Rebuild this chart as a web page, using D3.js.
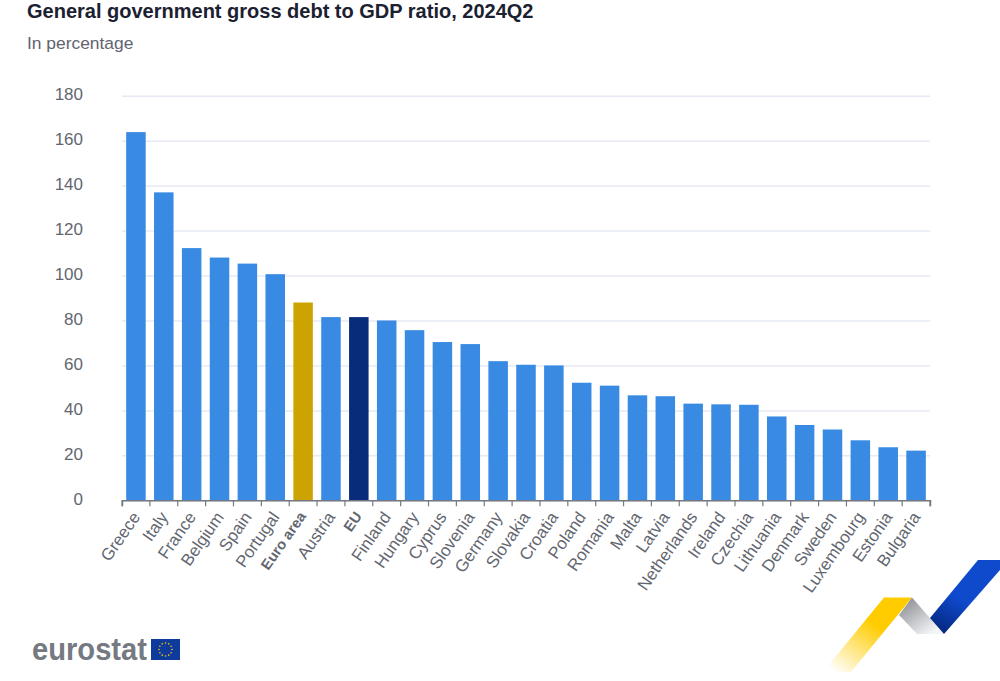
<!DOCTYPE html>
<html>
<head>
<meta charset="utf-8">
<script src="https://cdn.jsdelivr.net/npm/d3@7"></script>
<style>
html, body { margin: 0; padding: 0; background: #fff; }
svg { display: block; font-family: "Liberation Sans", Arial, sans-serif; }
</style>
</head>
<body>
<div id="hook"></div>
<script>
// Data
var countries = ["Greece","Italy","France","Belgium","Spain","Portugal","Euro area","Austria","EU","Finland","Hungary","Cyprus","Slovenia","Germany","Slovakia","Croatia","Poland","Romania","Malta","Latvia","Netherlands","Ireland","Czechia","Lithuania","Denmark","Sweden","Luxembourg","Estonia","Bulgaria"];
var debt = [163.8,137,112.2,108,105.3,100.6,88,81.5,81.5,80,75.7,70.4,69.5,61.9,60.3,60,52.3,51,46.7,46.3,43,42.7,42.5,37.3,33.5,31.5,26.7,23.6,22.1];
var yTicks = [0,20,40,60,80,100,120,140,160,180];
var aggregates = ["Euro area","EU"];

var svg = d3.select("#hook").append("svg")
    .attr("width", 1000)
    .attr("height", 681);

var x = d3.scaleBand().domain(countries).range([122, 930]).paddingInner(0.3).paddingOuter(0.15);
var y = d3.scaleLinear().domain([0, 180]).range([500.3, 95.7]);

// titles
svg.append("text").attr("x", 27).attr("y", 18)
    .style("font-size", "20px").style("font-weight", "bold").style("fill", "#1b2130")
    .text("General government gross debt to GDP ratio, 2024Q2");
svg.append("text").attr("x", 27).attr("y", 49)
    .style("font-size", "17.4px").style("fill", "#5f6470")
    .text("In percentage");

// y axis with gridlines
var yAxis = svg.append("g").attr("transform", "translate(122,0)")
    .call(d3.axisLeft(y).tickValues(yTicks).tickSize(-808).tickPadding(39));
yAxis.select(".domain").remove();
yAxis.selectAll("line").attr("stroke", "#e6eaf5").attr("stroke-width", 1.5);
yAxis.selectAll("text").style("font-size", "17px").style("fill", "#62666f")
    .style("font-family", "'Liberation Sans', Arial, sans-serif")
    .attr("dy", "0.24em");

// bars
svg.selectAll("rect.bar")
    .data(countries)
    .enter()
    .append("rect")
        .attr("class", "bar")
        .attr("x", function(d) { return x(d) })
        .attr("y", function(d, i) { return y(debt[i]) })
        .attr("width", x.bandwidth())
        .attr("height", function(d, i) { return y(0) - y(debt[i]) })
        .attr("fill", function(d) {
            if (d === "Euro area") return "#cca300";
            if (d === "EU") return "#082b7a";
            return "#388ae2";
        });

// x axis
var xAxis = svg.append("g").attr("transform", "translate(0,500.3)")
    .call(d3.axisBottom(x).tickSize(6).tickSizeOuter(6).tickPadding(4));
xAxis.select(".domain").attr("stroke", "#757980").attr("stroke-width", 1.5);
xAxis.selectAll("line").attr("stroke", "#757980").attr("stroke-width", 1.2)
    .attr("transform", "translate(-13.9,0)");
xAxis.append("line").attr("x1", 930).attr("x2", 930).attr("y1", 0).attr("y2", 6)
    .attr("stroke", "#757980").attr("stroke-width", 1.2);
xAxis.selectAll("text")
    .style("font-family", "'Liberation Sans', Arial, sans-serif")
    .style("fill", "#62666f")
    .style("font-weight", function(d) { return aggregates.indexOf(d) >= 0 ? "bold" : "normal" })
    .style("font-size", function(d) { return aggregates.indexOf(d) >= 0 ? "14.5px" : "16.9px" })
    .attr("text-anchor", "end")
    .attr("dy", "0.7em")
    .attr("transform", "translate(-5.5,0.5) rotate(-55,0,9)");

// logo
svg.append("text").attr("x", 32).attr("y", 660)
    .style("font-size", "31px").style("font-weight", "bold").style("fill", "#757982")
    .attr("textLength", 115).attr("lengthAdjust", "spacingAndGlyphs").text("eurostat");
svg.append("rect").attr("x", 151).attr("y", 639).attr("width", 29).attr("height", 21).attr("fill", "#0e3a9c");
var stars = d3.range(12);
svg.selectAll("circle.star").data(stars).enter().append("circle")
    .attr("class", "star")
    .attr("cx", function(d) { return 165.5 + 6.5 * Math.cos(d * Math.PI / 6) })
    .attr("cy", function(d) { return 649.5 + 6.5 * Math.sin(d * Math.PI / 6) })
    .attr("r", 0.8).attr("fill", "#f2c811");

// corner ribbon
var defs = svg.append("defs");
function grad(id, x1, y1, x2, y2, c1, c2) {
    var g = defs.append("linearGradient").attr("id", id).attr("gradientUnits", "userSpaceOnUse")
        .attr("x1", x1).attr("y1", y1).attr("x2", x2).attr("y2", y2);
    g.append("stop").attr("offset", 0).attr("stop-color", c1);
    g.append("stop").attr("offset", 1).attr("stop-color", c2);
}
grad("gy", 872, 622, 835, 672, "#ffcc00", "#ffffff");
grad("gg", 905, 600, 930, 634, "#8f9196", "#f4f5f7");
grad("gb", 962, 600, 944, 634, "#0f49cc", "#05287f");
svg.append("polygon").attr("points", "884,597.5 912,597.5 851,672 823,672").attr("fill", "url(#gy)");
svg.append("polygon").attr("points", "912,597.5 944,634 917,634 899,615").attr("fill", "url(#gg)");
svg.append("polygon").attr("points", "978,560 1000,560 1000,570 944,634 930,618").attr("fill", "url(#gb)");
</script>
</body>
</html>
